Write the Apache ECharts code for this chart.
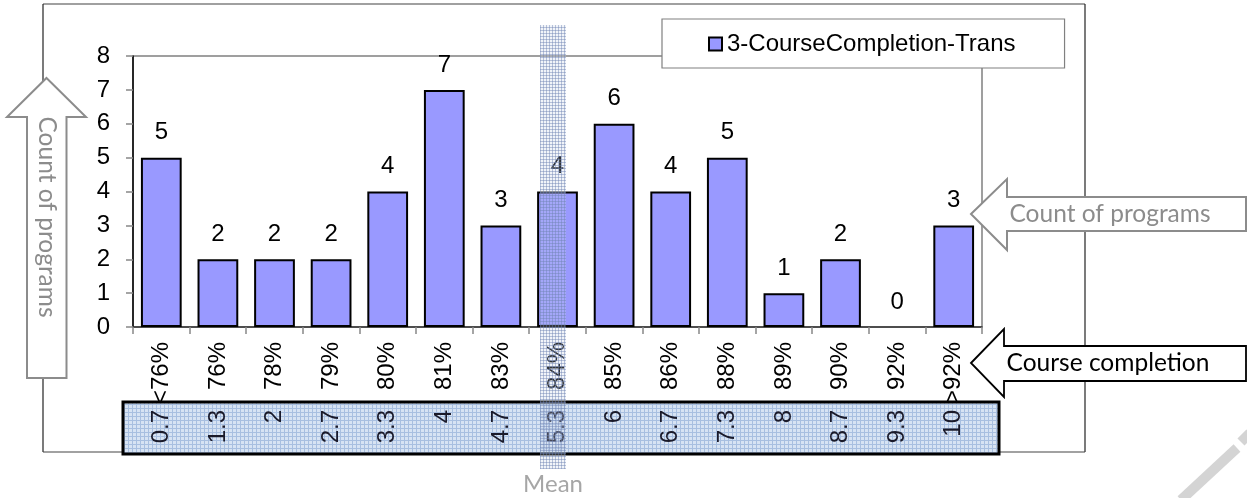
<!DOCTYPE html>
<html>
<head>
<meta charset="utf-8">
<script src="https://cdn.jsdelivr.net/npm/echarts@6/dist/echarts.min.js"></script>
<style>
html,body{margin:0;padding:0;background:#fff;}
#chart{width:1247px;height:498px;}
</style>
</head>
<body>
<div id="chart"></div>
<script>
// ---- data ----
const categories = ['<76%','76%','78%','79%','80%','81%','83%','84%','85%','86%','88%','89%','90%','92%','>92%'];
const counts = [5,2,2,2,4,7,3,4,6,4,5,1,2,0,3];
const scaleLabels = ['0.7','1.3','2','2.7','3.3','4','4.7','5.3','6','6.7','7.3','8','8.7','9.3','10'];
const seriesName = '3-CourseCompletion-Trans';
const yMin = 0, yMax = 8, yStep = 1;

function makePattern(size, bg, line) {
  const c = document.createElement('canvas');
  c.width = size; c.height = size;
  const ctx = c.getContext('2d');
  if (bg) { ctx.fillStyle = bg; ctx.fillRect(0, 0, size, size); }
  ctx.fillStyle = line;
  ctx.fillRect(0, 0, size, 1);
  ctx.fillRect(0, 0, 1, size);
  return c;
}
const bandPattern = { image: makePattern(3, 'rgba(200,210,230,0.25)', 'rgba(110,130,180,0.45)'), repeat: 'repeat' };
const boxPattern = { image: makePattern(4, '#d7e3f3', '#a8bfe0'), repeat: 'repeat' };

const arial = '"Liberation Sans", Arial, sans-serif';
const armFont = 'Lato, "Open Sans", sans-serif';
const barData = counts.map(v => v === 0 ? { value: v, itemStyle: { borderWidth: 0 } } : v);

const chart = echarts.init(document.getElementById('chart'), null, { renderer: 'canvas' });
const option = {
  animation: false,
  backgroundColor: '#fff',
  textStyle: { fontFamily: arial },
  grid: {
    left: 133, top: 56, right: 265, bottom: 171,
    show: true, borderColor: '#808080', borderWidth: 1.5, backgroundColor: 'transparent'
  },
  legend: {
    left: 662, top: 19,
    padding: [13, 49, 12, 46],
    backgroundColor: '#fff', borderColor: '#808080', borderWidth: 1.2,
    itemWidth: 13, itemHeight: 13, itemGap: 6,
    icon: 'rect',
    textStyle: { fontSize: 24, color: '#000', lineHeight: 24, fontFamily: arial },
    data: [seriesName]
  },
  xAxis: [
    {
      type: 'category', data: categories, position: 'bottom',
      axisLine: { show: true, lineStyle: { color: '#333', width: 1.5 } },
      axisTick: { show: true, length: 7, lineStyle: { color: '#888', width: 1.5 } },
      axisLabel: { rotate: 90, margin: 15, fontSize: 24, color: '#000', fontFamily: arial },
      splitLine: { show: false }
    },
    {
      type: 'category', data: scaleLabels, position: 'bottom',
      axisLine: { show: false }, axisTick: { show: false },
      axisLabel: { rotate: 90, margin: 83, fontSize: 24, color: '#1a1a2a', fontFamily: arial },
      splitLine: { show: false }
    }
  ],
  yAxis: {
    type: 'value', min: yMin, max: yMax, interval: yStep,
    axisLine: { show: true, lineStyle: { color: '#000', width: 1.5 } },
    axisTick: { show: true, length: 7, lineStyle: { color: '#888', width: 1.5 } },
    axisLabel: { margin: 23, fontSize: 24, color: '#000', fontFamily: arial },
    splitLine: { show: false }
  },
  series: [{
    name: seriesName, type: 'bar', data: barData, xAxisIndex: 0,
    barCategoryGap: '28%',
    itemStyle: { color: '#9999FF', borderColor: '#000', borderWidth: 2 },
    label: { show: true, position: 'top', distance: 13, fontSize: 24, color: '#000', fontFamily: arial },
    z: 3
  }],
  graphic: [
    // outer chart frame
    { type: 'line', z: -2, shape: { x1: 43, y1: 4, x2: 1085, y2: 4 }, style: { stroke: '#808080', lineWidth: 1.5 } },
    { type: 'line', z: -2, shape: { x1: 43, y1: 4, x2: 43, y2: 452 }, style: { stroke: '#222', lineWidth: 1.2 } },
    { type: 'line', z: -2, shape: { x1: 1085, y1: 4, x2: 1085, y2: 452 }, style: { stroke: '#222', lineWidth: 1.2 } },
    { type: 'line', z: -2, shape: { x1: 43, y1: 452, x2: 1085, y2: 452 }, style: { stroke: '#444', lineWidth: 1.2 } },
    // scale box
    { type: 'rect', z: -1, shape: { x: 123, y: 402, width: 876, height: 52 }, style: { fill: boxPattern, stroke: '#000', lineWidth: 3 } },
    // up arrow (y axis)
    { type: 'polygon', z: 5, shape: { points: [[46.5,78],[86,117],[66.5,117],[66.5,378],[27,378],[27,117],[7,117]] },
      style: { fill: '#fff', stroke: '#8c8c8c', lineWidth: 2 } },
    { type: 'text', z: 6, x: 47, y: 217, rotation: -Math.PI / 2,
      style: { text: 'Count of programs', fill: '#8c8c8c', font: '24.5px ' + armFont, align: 'center', verticalAlign: 'middle' } },
    // right gray arrow
    { type: 'polygon', z: 5, shape: { points: [[971,214],[1007,179],[1007,197],[1246,197],[1246,231],[1007,231],[1007,250]] },
      style: { fill: '#fff', stroke: '#8c8c8c', lineWidth: 2 } },
    { type: 'text', z: 6, x: 1110, y: 214,
      style: { text: 'Count of programs', fill: '#8c8c8c', font: '24.5px ' + armFont, align: 'center', verticalAlign: 'middle' } },
    // course completion arrow
    { type: 'polygon', z: 5, shape: { points: [[971,363],[1004,329],[1004,346],[1246,346],[1246,381],[1004,381],[1004,397]] },
      style: { fill: '#fff', stroke: '#000', lineWidth: 1.8 } },
    { type: 'text', z: 6, x: 1108, y: 363,
      style: { text: 'Course completion', fill: '#000', font: '24.5px ' + armFont, align: 'center', verticalAlign: 'middle' } },
    // mean band
    { type: 'rect', z: 20, shape: { x: 540, y: 25, width: 26, height: 444 }, style: { fill: bandPattern } },
    { type: 'text', z: 20, x: 553, y: 484,
      style: { text: 'Mean', fill: '#a6a6a6', font: '24px ' + armFont, align: 'center', verticalAlign: 'middle' } },
    // watermark stroke
    { type: 'polyline', z: 0, shape: { points: [[1181,500],[1237,448]] }, style: { stroke: '#d4d4d4', lineWidth: 10 } },
    { type: 'polyline', z: 0, shape: { points: [[1241,442],[1250,433]] }, style: { stroke: '#d4d4d4', lineWidth: 10 } }
  ]
};
chart.setOption(option);
</script>
</body>
</html>
